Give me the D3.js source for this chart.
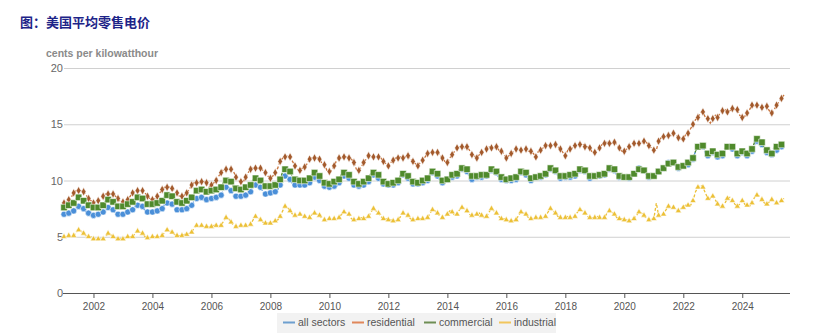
<!DOCTYPE html>
<html><head><meta charset="utf-8">
<script src="https://cdn.jsdelivr.net/npm/d3@7"></script>
<style>html,body{margin:0;padding:0;background:#fff;}svg{display:block;}</style>
</head><body>
<svg id="c" width="830" height="336"></svg>
<script>
const startYear = 2001;
const allSectors = [
[7.0,7.1,7.1,7.2,7.3,7.6,7.7,7.7,7.5,7.2,7.1,7.1],
[6.9,7.0,7.0,7.1,7.2,7.5,7.6,7.6,7.4,7.1,7.0,7.0],
[7.0,7.1,7.2,7.3,7.4,7.7,7.8,7.8,7.7,7.3,7.2,7.2],
[7.2,7.3,7.3,7.4,7.5,7.9,8.0,8.0,7.9,7.5,7.4,7.4],
[7.4,7.5,7.5,7.6,7.8,8.2,8.4,8.4,8.5,8.3,8.3,8.3],
[8.4,8.5,8.5,8.5,8.7,9.2,9.4,9.4,9.1,8.7,8.6,8.6],
[8.6,8.7,8.7,8.8,9.0,9.5,9.6,9.6,9.4,9.0,8.8,8.8],
[8.9,8.9,9.0,9.2,9.6,10.2,10.4,10.4,10.1,9.7,9.6,9.6],
[9.6,9.7,9.6,9.6,9.8,10.1,10.3,10.2,10.0,9.6,9.5,9.5],
[9.4,9.5,9.5,9.5,9.8,10.3,10.4,10.4,10.2,9.7,9.6,9.5],
[9.5,9.6,9.6,9.7,9.9,10.3,10.5,10.4,10.2,9.8,9.7,9.7],
[9.6,9.6,9.6,9.6,9.8,10.2,10.5,10.4,10.2,9.8,9.7,9.7],
[9.7,9.7,9.8,9.8,10.0,10.5,10.7,10.6,10.4,10.0,9.8,9.9],
[10.1,10.3,10.3,10.2,10.4,10.8,11.0,11.0,10.8,10.3,10.1,10.2],
[10.3,10.4,10.3,10.2,10.4,10.8,10.9,10.8,10.7,10.2,10.1,10.1],
[10.0,9.9,10.0,9.9,10.1,10.5,10.7,10.6,10.5,10.1,10.0,10.1],
[10.3,10.3,10.3,10.2,10.5,10.9,11.0,11.0,10.8,10.4,10.2,10.2],
[10.3,10.5,10.3,10.3,10.4,10.8,10.9,10.9,10.8,10.4,10.2,10.3],
[10.4,10.5,10.4,10.3,10.5,10.9,11.0,11.0,10.9,10.4,10.3,10.4],
[10.3,10.3,10.2,10.3,10.6,10.9,11.1,11.0,10.9,10.5,10.3,10.4],
[10.4,10.8,10.8,10.8,11.1,11.4,11.6,11.6,11.6,11.2,11.1,11.4],
[11.3,11.4,11.4,11.6,11.9,12.6,13.0,13.2,13.0,12.4,12.2,12.3],
[12.5,12.4,12.1,12.1,12.2,12.7,13.0,13.0,12.8,12.4,12.2,12.4],
[12.5,12.3,12.2,12.3,12.6,13.2,13.5,13.4,13.2,12.7,12.5,12.6],
[12.3,12.8,12.7,12.8,13.0,13.0]
];
const residential = [
[8.0,8.1,8.3,8.5,8.9,9.1,9.1,9.1,9.0,8.7,8.4,8.2],
[8.0,8.1,8.2,8.4,8.6,8.8,8.8,8.8,8.8,8.6,8.4,8.1],
[8.1,8.1,8.3,8.6,8.9,9.1,9.1,9.1,9.1,8.9,8.6,8.4],
[8.3,8.4,8.6,8.9,9.2,9.4,9.4,9.4,9.3,9.1,8.9,8.6],
[8.6,8.7,8.9,9.2,9.6,9.8,9.8,9.8,9.9,9.9,9.8,9.4],
[9.6,9.8,10.0,10.4,10.7,11.0,11.0,11.0,11.0,10.8,10.3,10.0],
[9.9,9.9,10.3,10.7,11.0,11.1,11.1,11.1,11.1,10.9,10.7,10.4],
[10.2,10.4,10.7,11.1,11.7,12.0,12.1,12.2,12.1,11.7,11.3,11.0],
[10.9,11.1,11.2,11.5,11.9,12.0,12.0,12.0,11.9,11.5,11.4,10.9],
[10.8,10.9,11.3,11.8,12.0,12.0,12.1,12.1,12.0,11.9,11.6,11.0],
[10.9,11.2,11.6,11.9,12.2,12.1,12.1,12.1,12.1,12.0,11.7,11.5],
[11.3,11.6,11.8,12.0,12.0,12.1,12.0,12.1,12.2,11.9,11.7,11.5],
[11.3,11.6,11.8,12.1,12.4,12.5,12.5,12.5,12.5,12.3,12.0,11.7],
[11.6,12.0,12.3,12.6,12.9,13.0,13.0,12.9,13.0,12.7,12.3,12.2],
[12.0,12.3,12.5,12.6,12.8,13.0,12.9,12.9,13.0,12.7,12.6,12.4],
[12.0,12.2,12.4,12.6,12.8,12.8,12.7,12.7,12.8,12.6,12.6,12.4],
[12.1,12.6,12.7,12.9,13.1,13.2,13.1,13.2,13.2,13.0,12.8,12.5],
[12.2,12.7,12.8,12.9,13.1,13.2,13.2,13.3,13.0,13.0,12.9,12.5],
[12.5,12.7,12.9,13.2,13.3,13.4,13.3,13.3,13.4,13.2,12.9,12.6],
[12.6,12.8,13.0,13.1,13.3,13.3,13.3,13.3,13.5,13.4,13.1,12.9],
[12.7,12.7,13.5,13.8,13.9,13.9,14.0,14.0,14.2,14.1,13.8,13.7],
[13.7,14.1,14.2,14.6,15.0,15.4,15.6,16.0,16.1,15.6,15.5,15.1],
[15.5,15.8,15.6,16.0,16.2,16.3,16.1,16.2,16.4,16.3,16.3,15.8],
[15.6,15.7,16.0,16.3,16.7,16.6,16.7,16.7,16.5,16.6,16.6,16.2],
[16.0,16.3,16.7,17.0,17.3,17.6]
];
const commercial = [
[7.6,7.7,7.8,7.9,8.0,8.4,8.5,8.4,8.2,8.0,7.8,7.7],
[7.6,7.6,7.6,7.7,7.8,8.2,8.3,8.2,8.1,7.8,7.7,7.7],
[7.7,7.8,7.9,8.0,8.1,8.4,8.5,8.5,8.4,8.0,7.9,7.9],
[7.9,7.9,8.0,8.1,8.2,8.6,8.7,8.7,8.6,8.2,8.1,8.1],
[8.0,8.1,8.2,8.3,8.5,8.9,9.1,9.1,9.2,9.0,9.0,8.9],
[9.1,9.2,9.2,9.2,9.4,9.9,10.0,10.0,9.9,9.4,9.3,9.3],
[9.2,9.3,9.4,9.4,9.6,10.1,10.2,10.2,10.0,9.6,9.5,9.5],
[9.5,9.5,9.6,9.8,10.1,10.8,11.0,11.0,10.8,10.3,10.1,10.1],
[10.0,10.0,10.0,10.1,10.2,10.6,10.7,10.6,10.4,9.9,9.8,9.8],
[9.7,9.8,9.9,9.9,10.1,10.6,10.7,10.6,10.5,10.0,9.9,9.8],
[9.7,9.9,9.9,10.0,10.2,10.7,10.7,10.7,10.5,10.1,9.9,9.9],
[9.7,9.8,9.8,9.8,10.0,10.5,10.6,10.6,10.4,10.0,9.9,9.9],
[9.8,9.9,10.0,10.0,10.2,10.7,10.8,10.8,10.6,10.2,10.0,10.0],
[10.1,10.4,10.5,10.4,10.6,11.0,11.1,11.1,11.0,10.6,10.4,10.3],
[10.4,10.6,10.5,10.4,10.5,10.9,11.0,10.9,10.8,10.5,10.3,10.2],
[10.1,10.1,10.2,10.1,10.3,10.6,10.8,10.7,10.7,10.4,10.2,10.2],
[10.3,10.4,10.4,10.4,10.6,11.0,11.1,11.1,10.9,10.6,10.4,10.3],
[10.4,10.6,10.5,10.5,10.6,10.9,11.0,11.0,10.9,10.6,10.4,10.4],
[10.4,10.5,10.5,10.5,10.6,11.0,11.1,11.1,11.0,10.6,10.4,10.4],
[10.3,10.3,10.3,10.4,10.6,10.9,11.0,11.0,10.9,10.7,10.4,10.3],
[10.4,10.7,10.8,10.9,11.1,11.4,11.5,11.6,11.6,11.3,11.2,11.3],
[11.3,11.5,11.6,11.7,12.0,12.6,13.0,13.3,13.1,12.6,12.4,12.4],
[12.6,12.5,12.3,12.3,12.4,12.9,13.0,13.1,13.0,12.6,12.4,12.5],
[12.6,12.5,12.4,12.5,12.8,13.4,13.7,13.6,13.4,12.9,12.7,12.8],
[12.4,13.0,13.0,13.1,13.2,13.1]
];
const industrial = [
[5.0,5.0,5.1,5.0,5.1,5.4,5.6,5.5,5.3,5.1,5.0,5.0],
[4.8,4.8,4.8,4.8,4.8,5.0,5.3,5.2,5.0,4.9,4.8,4.8],
[4.8,4.9,5.0,5.0,5.0,5.3,5.5,5.4,5.3,5.0,4.9,4.9],
[5.0,5.0,5.0,5.0,5.1,5.4,5.6,5.5,5.4,5.2,5.1,5.1],
[5.1,5.2,5.2,5.3,5.4,5.8,6.0,5.9,6.0,5.9,5.9,5.9],
[5.9,6.0,6.0,5.9,6.0,6.4,6.7,6.6,6.3,6.0,5.9,5.9],
[6.0,6.0,6.0,6.0,6.1,6.5,6.8,6.7,6.5,6.3,6.2,6.2],
[6.2,6.3,6.4,6.5,6.8,7.3,7.7,7.6,7.3,7.0,6.9,6.9],
[7.0,7.0,6.8,6.6,6.7,7.0,7.1,7.0,6.9,6.6,6.5,6.6],
[6.6,6.6,6.6,6.5,6.7,7.0,7.2,7.1,7.0,6.6,6.5,6.5],
[6.6,6.7,6.6,6.7,6.8,7.2,7.5,7.3,7.1,6.8,6.6,6.6],
[6.5,6.5,6.4,6.4,6.5,6.8,7.1,7.0,6.9,6.6,6.5,6.5],
[6.6,6.6,6.6,6.6,6.7,7.1,7.4,7.3,7.1,6.8,6.7,6.8],
[7.0,7.3,7.2,6.9,7.0,7.4,7.6,7.5,7.3,7.0,6.9,6.9],
[7.0,7.1,6.9,6.7,6.8,7.2,7.5,7.3,7.1,6.8,6.6,6.6],
[6.5,6.4,6.4,6.4,6.5,6.9,7.2,7.1,7.0,6.7,6.6,6.6],
[6.7,6.7,6.7,6.6,6.8,7.2,7.5,7.3,7.1,6.8,6.7,6.6],
[6.7,6.8,6.7,6.6,6.8,7.2,7.4,7.3,7.1,6.8,6.7,6.7],
[6.7,6.8,6.7,6.6,6.7,7.1,7.3,7.2,7.0,6.7,6.6,6.6],
[6.5,6.5,6.4,6.5,6.6,6.9,7.2,7.1,6.9,6.6,6.5,6.6],
[6.6,8.0,6.9,6.8,7.0,7.4,7.7,7.7,7.6,7.4,7.3,7.5],
[7.6,7.8,7.8,7.8,8.2,9.0,9.4,9.6,9.4,8.9,8.4,8.4],
[8.6,8.3,7.9,7.7,7.7,8.0,8.4,8.5,8.2,7.9,7.7,7.9],
[8.2,7.9,7.8,7.7,8.0,8.5,8.7,8.6,8.3,8.0,7.9,8.1],
[8.3,8.2,8.0,8.0,8.2,8.4]
];
const yTicks = [0,5,10,15,20];
const xTickYears = [2002,2004,2006,2008,2010,2012,2014,2016,2018,2020,2022,2024];
const seriesNames = ["all sectors","residential","commercial","industrial"];
const title = "图：美国平均零售电价";
const yLabel = "cents per kilowatthour";

const series = [
  {name: seriesNames[0], rows: allSectors, color: "#4a8fd8", legend: "#6d9fcf", shape: "circle"},
  {name: seriesNames[1], rows: residential, color: "#a35a2c", line: "#c8743c", legend: "#e0875a", shape: "diamond"},
  {name: seriesNames[2], rows: commercial, color: "#4f8a2c", legend: "#6e8e54", shape: "square"},
  {name: seriesNames[3], rows: industrial, color: "#ecc036", legend: "#f2c65c", shape: "triangle"}
].map(s => ({...s, values: s.rows.flat().map((v, i) => ({date: new Date(startYear, i, 1), v}))}));

const svg = d3.select("#c");
const x = d3.scaleTime().domain([new Date(2001,0,1), new Date(2025,5,1)]).range([64, 784]);
const y = d3.scaleLinear().domain([0, 20]).range([293, 68]);

svg.append("text").attr("x", 20).attr("y", 27).text(title)
  .attr("font-family", "'Noto Sans CJK SC'").attr("font-weight", "bold")
  .attr("font-size", 13).attr("fill", "#1d2488");
svg.append("text").attr("x", 46).attr("y", 57).text(yLabel)
  .attr("font-family", "'Liberation Sans', Arial").attr("font-weight", "bold")
  .attr("font-size", 10.5).attr("fill", "#8a8a8a");

const gy = svg.append("g").attr("transform", "translate(64,0)")
  .call(d3.axisLeft(y).tickValues(yTicks).tickSize(-726).tickPadding(1));
gy.select(".domain").remove();
gy.selectAll(".tick line").attr("stroke", d => d === 0 ? "none" : "#d0d0d0").attr("stroke-width", 1);
gy.selectAll(".tick text").attr("font-family", "'Liberation Sans', Arial").attr("font-size", 11).attr("fill", "#666");

const gx = svg.append("g").attr("transform", "translate(0,293)")
  .call(d3.axisBottom(x).tickValues(xTickYears.map(yr => new Date(yr,0,1))).tickFormat(d3.timeFormat("%Y")).tickSize(5).tickSizeOuter(0).tickPadding(5));
gx.select(".domain").attr("d", "M63,0.5H790").attr("stroke", "#555");
gx.selectAll(".tick line").attr("stroke", "#555");
gx.selectAll(".tick text").attr("font-family", "'Liberation Sans', Arial").attr("font-size", 10).attr("fill", "#555");

const symbolType = {circle: d3.symbolCircle, diamond: d3.symbolDiamond, square: d3.symbolSquare, triangle: d3.symbolTriangle};
const symbolSize = {circle: 30, diamond: 20, square: 42, triangle: 16};
const line = d3.line().x(d => x(d.date)).y(d => y(d.v));

series.forEach(s => {
  const g = svg.append("g");
  g.append("path").datum(s.values).attr("d", line).attr("fill", "none")
    .attr("stroke", s.line || s.color).attr("stroke-width", 1.3).attr("stroke-dasharray", "3,2");
  g.selectAll("path.m").data(s.values.filter((d, i) => i % 2 === 0)).join("path").attr("class", "m")
    .attr("transform", d => `translate(${x(d.date)},${y(d.v)})`)
    .attr("d", d3.symbol().type(symbolType[s.shape]).size(symbolSize[s.shape]))
    .attr("fill", s.color).attr("stroke", "#fff").attr("stroke-width", 0.7).attr("stroke-opacity", 0.8);
});

const lg = svg.append("g");
lg.append("rect").attr("x", 277).attr("y", 313).attr("width", 279).attr("height", 20).attr("fill", "#f2f2f2");
const legendX = [283, 352, 424, 499];
series.forEach((s, i) => {
  lg.append("line").attr("x1", legendX[i]).attr("x2", legendX[i] + 12).attr("y1", 322.5).attr("y2", 322.5)
    .attr("stroke", s.legend).attr("stroke-width", 2);
  lg.append("text").attr("x", legendX[i] + 15).attr("y", 326).text(s.name)
    .attr("font-family", "'Liberation Sans', Arial").attr("font-size", 10.5).attr("fill", "#555");
});
</script>
</body></html>
